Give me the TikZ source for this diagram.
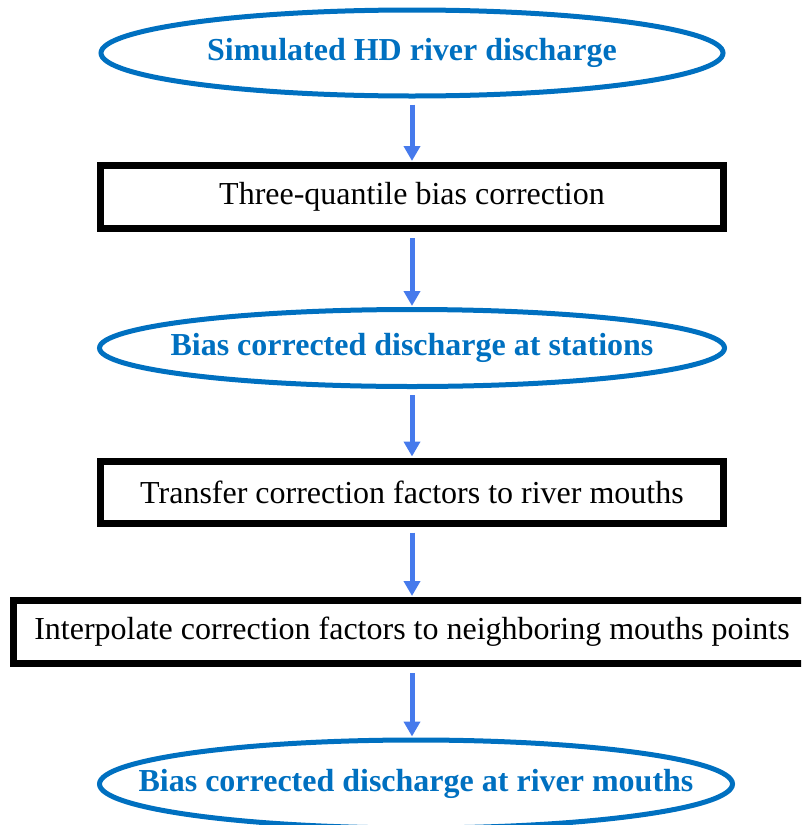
\documentclass[tikz,border=0pt]{standalone}
\usepackage{fontspec}
\setmainfont{Liberation Serif}
\usetikzlibrary{arrows.meta}
\usetikzlibrary{shapes.geometric}
\definecolor{ellblue}{RGB}{0,112,192}
\definecolor{arrblue}{RGB}{70,122,236}

\begin{document}
\begin{tikzpicture}[x=1pt,y=-1pt,
    every ellipse node/.style={draw=ellblue,line width=5pt,text=ellblue,font=\fontsize{32}{36}\selectfont\bfseries,inner xsep=-60pt,inner ysep=0pt},
    stepbox/.style={draw=black,line width=7pt,font=\fontsize{32}{36}\selectfont,inner sep=0pt},
    flow/.style={draw=arrblue,line width=5pt,-{Triangle[length=15pt,width=16pt]},shorten <=6pt,shorten >=1pt}]
    \clip (0,0) rectangle (801,825);
    \node[ellipse,minimum width=622pt,minimum height=86pt] (sim) at (412,53) {Simulated HD river discharge};
    \node[stepbox,minimum width=623pt,minimum height=63pt] (bias) at (412,197) {Three-quantile bias correction};
    \node[ellipse,minimum width=625pt,minimum height=77pt] (stat) at (412,348) {Bias corrected discharge at stations};
    \node[stepbox,minimum width=623pt,minimum height=62pt] (transf) at (412,492) {Transfer correction factors to river mouths};
    \node[stepbox,minimum width=797pt,minimum height=63pt] (interp) at (412,632) {Interpolate correction factors to neighboring mouths points};
    \node[ellipse,minimum width=633pt,minimum height=88pt] (mouth) at (416,784) {Bias corrected discharge at river mouths};
    \draw[flow] (sim.south) -- (sim.south |- bias.north);
    \draw[flow] (sim.south |- bias.south) -- (sim.south |- stat.north);
    \draw[flow] (stat.south) -- (stat.south |- transf.north);
    \draw[flow] (stat.south |- transf.south) -- (stat.south |- interp.north);
    \draw[flow] (stat.south |- interp.south) -- (stat.south |- mouth.north);
\end{tikzpicture}
\end{document}
